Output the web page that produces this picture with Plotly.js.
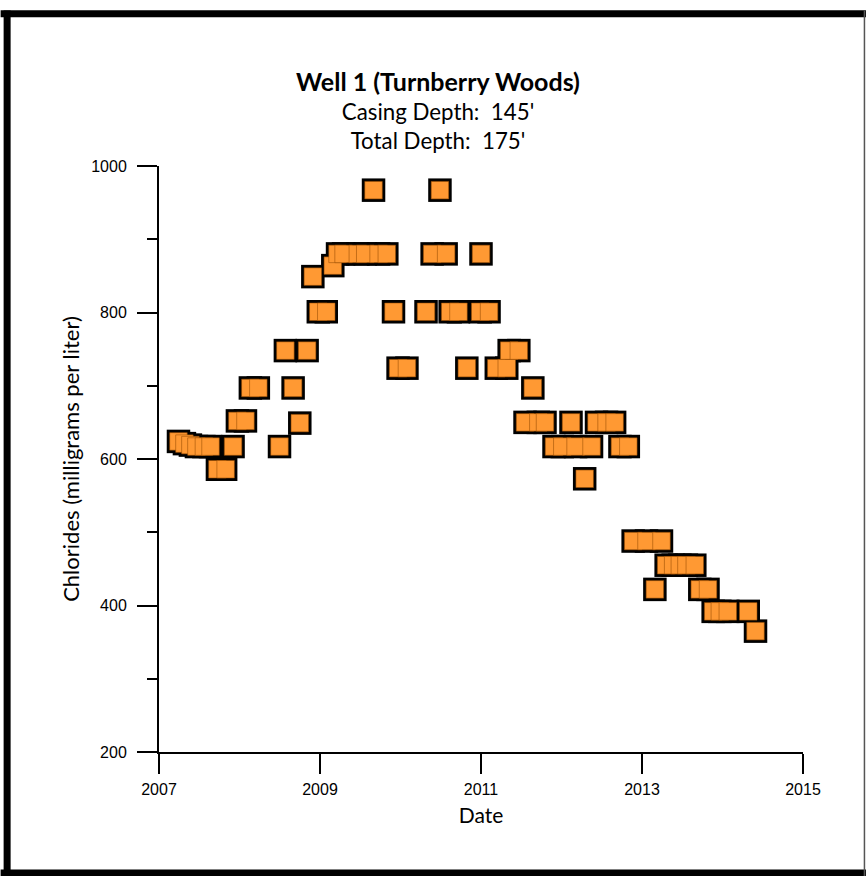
<!DOCTYPE html>
<html>
<head>
<meta charset="utf-8">
<script src="https://cdn.plot.ly/plotly-3.0.1.min.js"></script>
<style>
  html, body { margin: 0; padding: 0; background: #ffffff; }
  #chart { width: 866px; height: 876px; }
</style>
</head>
<body>
<div id="chart"></div>
<script>
// Sample dates (decimal years)
const sampleYears = [
  2007.242, 2007.316, 2007.390, 2007.465, 2007.558, 2007.640, 2007.726, 2007.828, 2007.920, 2007.974,
  2008.074, 2008.135, 2008.234, 2008.497, 2008.570, 2008.666, 2008.749, 2008.840, 2008.911, 2008.979,
  2009.078, 2009.159, 2009.218, 2009.293, 2009.470, 2009.562, 2009.665, 2009.728, 2009.830, 2009.913,
  2009.970, 2010.080, 2010.317, 2010.393, 2010.490, 2010.567, 2010.617, 2010.720, 2010.824, 2010.990,
  2011.000, 2011.100, 2011.190, 2011.320, 2011.350, 2011.470, 2011.547, 2011.644, 2011.712, 2011.795,
  2011.907, 2012.010, 2012.118, 2012.175, 2012.288, 2012.373, 2012.435, 2012.560, 2012.660, 2012.726,
  2012.830, 2012.890, 2013.056, 2013.160, 2013.242, 2013.300, 2013.387, 2013.470, 2013.552, 2013.656,
  2013.718, 2013.820, 2013.884, 2013.967, 2014.066, 2014.320, 2014.410
];
// Chloride concentrations (mg/L)
const chlorides = [
  624, 621, 619, 617, 617, 617, 586, 586, 617, 652,
  652, 697, 697, 617, 748, 697, 649, 748, 849, 801,
  801, 864, 880, 880, 880, 880, 967, 880, 880, 801,
  724, 724, 801, 880, 967, 880, 801, 801, 724, 801,
  880, 801, 724, 724, 748, 748, 650, 697, 650, 650,
  617, 617, 650, 617, 573, 617, 650, 650, 650, 617,
  617, 488, 488, 422, 488, 455, 455, 455, 455, 455,
  422, 422, 392, 392, 392, 392, 365
];
const xTickVals = [2007, 2009, 2011, 2013, 2015];
const xTickText = ['2007', '2009', '2011', '2013', '2015'];
const yTickVals = [200, 400, 600, 800, 1000];
const yTickText = ['200', '400', '600', '800', '1000'];

const titleFont = 'Lato, "Open Sans", sans-serif';
const tickFont = '"Liberation Sans", Arial, sans-serif';

// pixel geometry helpers for the page frame
const W = 866, H = 876;
const mL = 158.5, mR = W - 803, mT = 165.7, mB = H - 752;
const pw = W - mL - mR, ph = H - mT - mB;
const px = v => (v - mL) / pw;
const py = v => 1 - (v - mT) / ph;

const traces = [
  {
    type: 'scatter', mode: 'markers', x: sampleYears, y: chlorides,
    marker: { symbol: 'square', size: 23.5, color: '#000000', line: { width: 0 } },
    hoverinfo: 'skip', showlegend: false, cliponaxis: false
  },
  {
    type: 'scatter', mode: 'markers', x: sampleYears, y: chlorides,
    marker: { symbol: 'square', size: 17.5, color: '#FF9933',
              line: { width: 1, color: 'rgba(150,75,0,0.55)' } },
    showlegend: false, cliponaxis: false
  }
];

const layout = {
  width: W, height: H,
  paper_bgcolor: '#ffffff', plot_bgcolor: '#ffffff',
  margin: { l: mL, r: mR, t: mT, b: mB, pad: 0 },
  showlegend: false,
  title: {
    text: "<span style='font-size:25px'><b>Well 1 (Turnberry Woods)</b></span><br>Casing Depth:  145'<br>Total Depth:  175'",
    font: { family: titleFont, size: 22.3, color: '#000000' },
    x: 438 / W, xref: 'container', xanchor: 'center',
    y: 1 - 91 / H, yref: 'container', yanchor: 'top'
  },
  xaxis: {
    range: [2007, 2015], fixedrange: true,
    tickmode: 'array', tickvals: xTickVals, ticktext: xTickText,
    ticks: 'outside', ticklen: 20, tickwidth: 2, tickcolor: '#000000',
    showline: true, linewidth: 2, linecolor: '#000000',
    showgrid: false, zeroline: false,
    tickfont: { family: tickFont, size: 16, color: '#000000' },
    ticklabelstandoff: 2,
    title: { text: 'Date', font: { family: titleFont, size: 21, color: '#000000' }, standoff: 11 }
  },
  yaxis: {
    range: [200, 1000], fixedrange: true,
    tickmode: 'array', tickvals: yTickVals, ticktext: yTickText,
    ticks: 'outside', ticklen: 20, tickwidth: 2, tickcolor: '#000000',
    minor: { dtick: 100, ticks: 'outside', ticklen: 10, tickwidth: 2, tickcolor: '#000000', showgrid: false },
    showline: true, linewidth: 2, linecolor: '#000000',
    showgrid: false, zeroline: false,
    tickfont: { family: tickFont, size: 16, color: '#000000' },
    ticklabelstandoff: 7,
    title: { text: 'Chlorides (milligrams per liter)', font: { family: titleFont, size: 22, color: '#000000' }, standoff: 6 }
  },
  shapes: [
    { type: 'line', xref: 'paper', yref: 'paper', x0: px(0), x1: px(W), y0: py(13.3), y1: py(13.3), line: { color: '#000', width: 7 } },
    { type: 'line', xref: 'paper', yref: 'paper', x0: px(6.5), x1: px(6.5), y0: py(10), y1: py(H), line: { color: '#000', width: 7 } },
    { type: 'line', xref: 'paper', yref: 'paper', x0: px(0), x1: px(W), y0: py(873), y1: py(873), line: { color: '#000', width: 7 } },
    { type: 'line', xref: 'paper', yref: 'paper', x0: px(864.5), x1: px(864.5), y0: py(10), y1: py(H), line: { color: '#555', width: 1.5 } }
  ]
};

Plotly.newPlot('chart', traces, layout, { displayModeBar: false, staticPlot: true });
</script>
</body>
</html>
